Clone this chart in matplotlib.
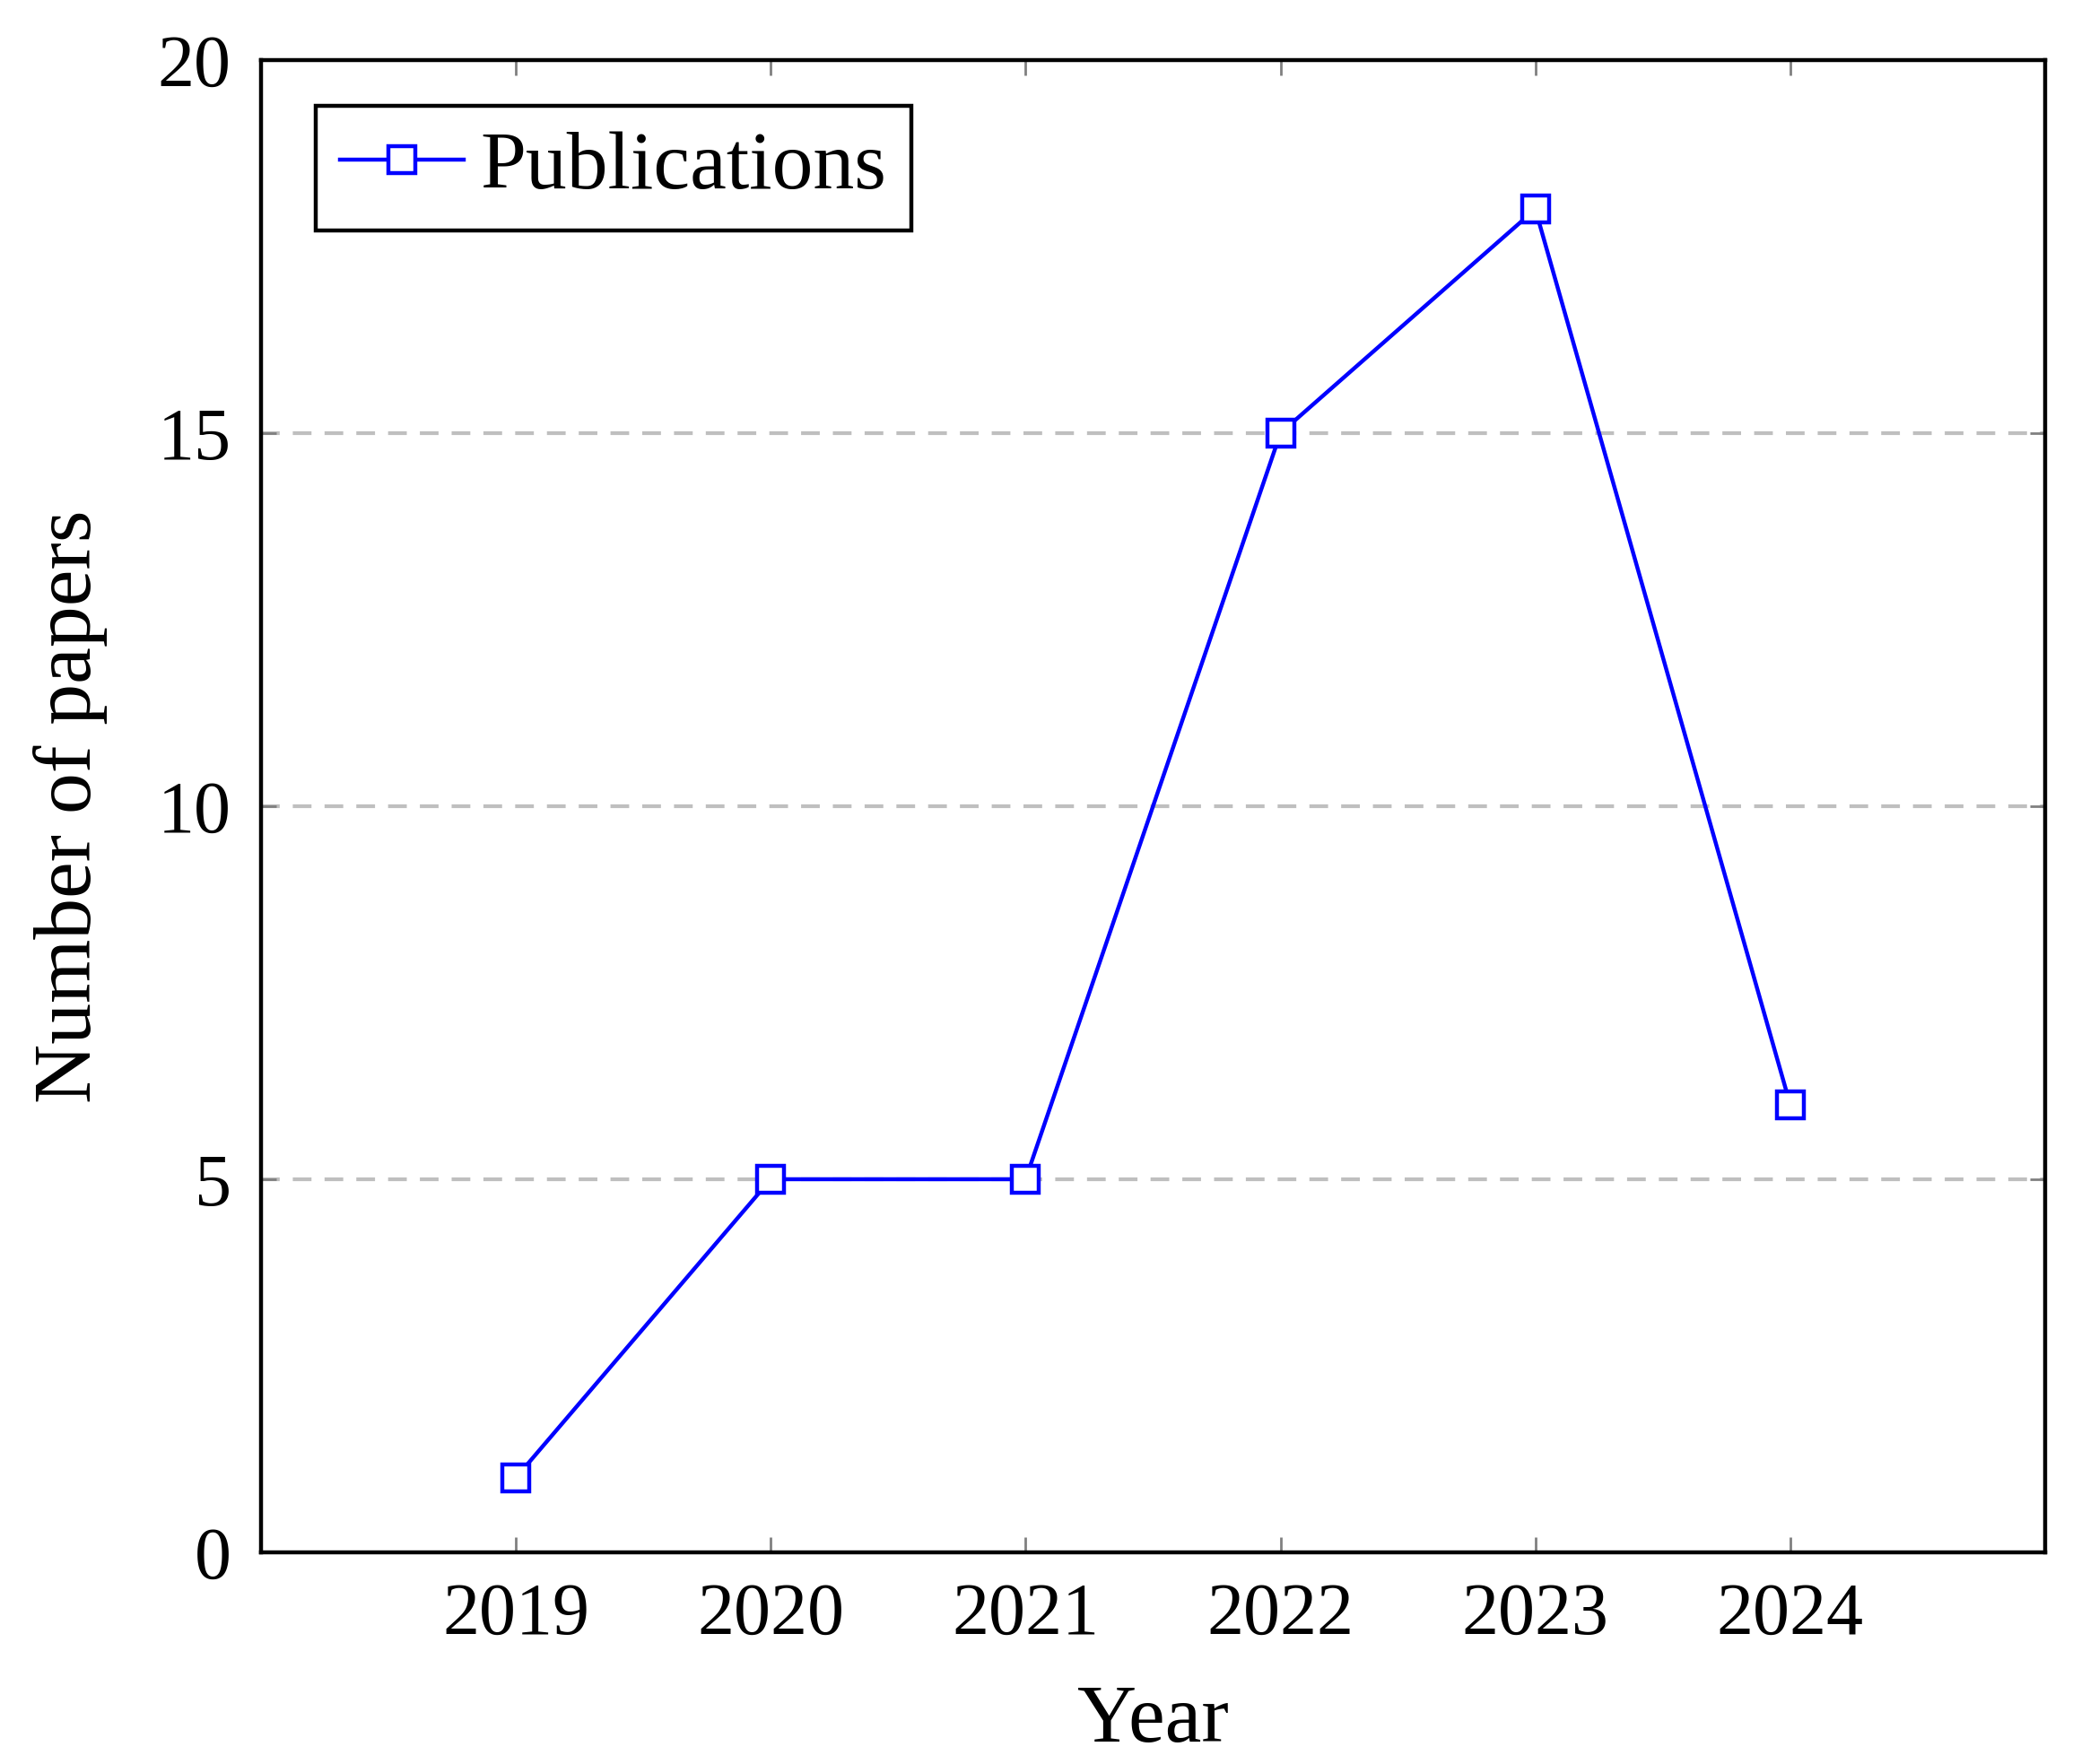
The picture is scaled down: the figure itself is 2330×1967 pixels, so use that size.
import matplotlib
matplotlib.use("Agg")
import matplotlib.pyplot as plt

# data
years = [2019, 2020, 2021, 2022, 2023, 2024]
papers = [1, 5, 5, 15, 18, 6]
yticks = [0, 5, 10, 15, 20]

plt.rcParams["font.family"] = ["Liberation Serif", "DejaVu Serif"]
plt.rcParams["font.size"] = 29.5

fig = plt.figure(figsize=(11.65, 9.835), dpi=200)
ax = fig.add_axes([0.1249, 0.120, 0.8536, 0.846])

ax.plot(years, papers, color="#0000ff", linewidth=1.6, marker="s",
        markersize=10.5, markerfacecolor="white", markeredgecolor="#0000ff",
        markeredgewidth=1.6, label="Publications", zorder=3)

ax.set_xlim(2018, 2025)
ax.set_ylim(0, 20)
ax.set_xticks(years)
ax.set_xticklabels([str(y) for y in years])
ax.set_yticks(yticks)

# dashed horizontal grid only
for y in yticks[1:-1]:
    ax.axhline(y, color="#bfbfbf", linestyle=(0, (5, 3.5)), linewidth=1.5, zorder=1)

ax.tick_params(axis="both", direction="in", length=6, width=1.0, color="#808080",
               top=True, right=True, pad=12)
for s in ax.spines.values():
    s.set_linewidth(1.6)
    s.set_color("black")

ax.set_xlabel("Year", labelpad=14, fontsize=33)
ax.set_ylabel("Number of papers", labelpad=20, fontsize=33)

leg = ax.legend(loc="upper left", fancybox=False, edgecolor="black", framealpha=1,
                borderpad=0.3, borderaxespad=0, handlelength=1.5, handletextpad=0.2,
                fontsize=33, bbox_to_anchor=(0.0306, 0.969))
leg.get_frame().set_linewidth(1.6)

fig.savefig("out.png", dpi=200)
